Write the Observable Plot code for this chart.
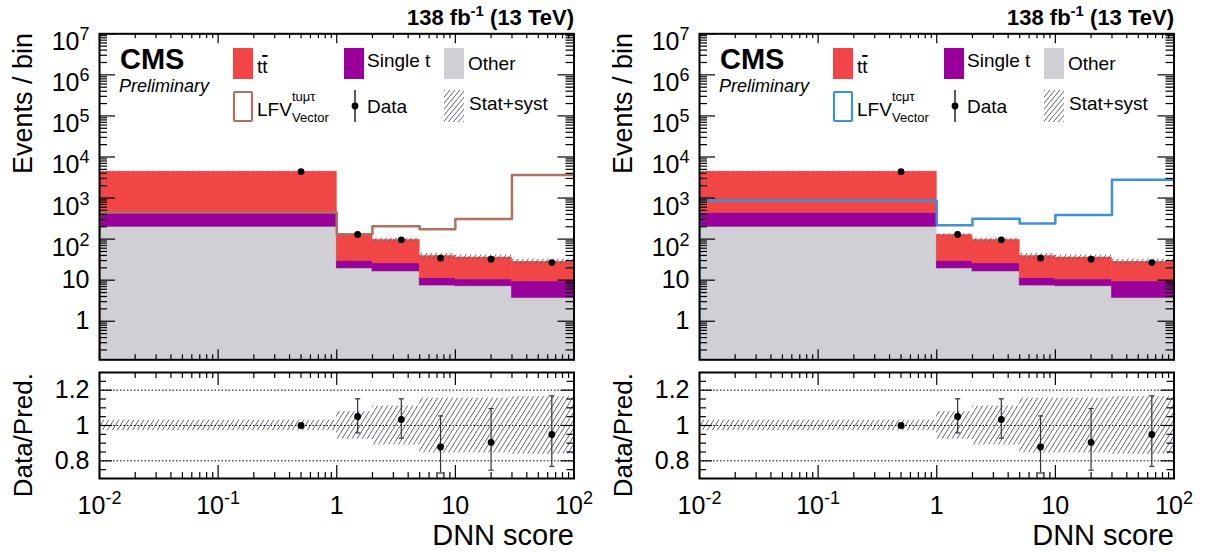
<!DOCTYPE html>
<html><head><meta charset="utf-8">
<script src="https://cdn.jsdelivr.net/npm/d3@7"></script>
<script src="https://cdn.jsdelivr.net/npm/@observablehq/plot@0.6"></script>
<style>
body{margin:0;background:#fff;}
#root{position:relative;width:1206px;height:552px;overflow:hidden;background:#fff;}
#root svg{position:absolute;}
</style></head><body><div id="root"></div>
<script>
// ---------------- data ----------------
const binEdges   = [0, 1, 2, 5, 10, 30, 100];            // DNN score bin edges
const otherBkg   = [200, 19.3, 16.3, 7.4, 7.1, 3.7];      // "Other"
const singleTop  = [237, 10.2, 9.3, 3.8, 3.3, 5.6];       // "Single t"
const ttbarBkg   = [3933, 95.5, 69.4, 27.3, 25.2, 18.7];  // "tt̄"
const dataCounts = [4400, 130, 96, 34.3, 32.4, 26.8];     // Data
const lfvTuMuTau = [445, 132, 207, 175, 307, 3630];       // LFV tuμτ (left)
const lfvTcMuTau = [860, 219, 312, 241, 385, 2800];       // LFV tcμτ (right)
const bandUnc    = [0.03, 0.078, 0.11, 0.155, 0.155, 0.163]; // stat+syst rel. unc.
const ratioValues= [1.0, 1.051, 1.034, 0.879, 0.905, 0.949];
const ratioLow   = [0.99, 0.958, 0.928, 0.731, 0.747, 0.769];
const ratioHigh  = [1.01, 1.151, 1.151, 1.054, 1.096, 1.168];
const yMajorTicks = [1, 10, 100, 1e3, 1e4, 1e5, 1e6, 1e7];
const xMajorTicks = [0.01, 0.1, 1, 10, 100];
const ratioTicks  = [0.8, 1, 1.2];
const ratioMinorTicks = [0.75, 0.85, 0.9, 0.95, 1.05, 1.1, 1.15, 1.25];

// ---------------- settings ----------------
const FONT = "'Liberation Sans', Arial, Helvetica, sans-serif";
const X_MIN = 0.01, X_MAX = 100, Y_MIN = 0.115, Y_MAX = 1e7, R_MIN = 0.7, R_MAX = 1.3;
const C = {tt: "#f04646", st: "#990099", other: "#d0cfd4", hatch: "#5c6170",
           lfvU: "#ad7260", lfvC: "#3f90da"};
const svgNS = "http://www.w3.org/2000/svg";

const bins = binEdges.slice(0, -1).map((e, i) => {
  const o = otherBkg[i], s = o + singleTop[i], t = s + ttbarBkg[i];
  return {lo: Math.max(e, X_MIN), hi: binEdges[i + 1], c: (e + binEdges[i + 1]) / 2,
          o, s, t, data: dataCounts[i], u: bandUnc[i],
          r: ratioValues[i], rLo: ratioLow[i], rHi: ratioHigh[i]};
});
const minorLog = (lo, hi) => { const a = [];
  for (let k = -3; k < 8; k++) for (let m = 2; m < 10; m++) { const v = m * 10 ** k; if (v > lo && v < hi) a.push(v); }
  return a; };
const yMinorTicks = minorLog(Y_MIN, Y_MAX);
const xMinorTicks = minorLog(X_MIN, X_MAX);

function powFmt(v) {
  const k = Math.round(Math.log10(v));
  if (k === 0) return "1";
  if (k === 1) return "10";
  return "10^" + k;
}
function hatchDefs(id) {
  return () => {
    const defs = document.createElementNS(svgNS, "defs");
    defs.innerHTML = `<pattern id="${id}" patternUnits="userSpaceOnUse" width="5" height="8">
      <path d="M-0.625,9L5.625,-1" stroke="${C.hatch}" stroke-width="1" fill="none"/></pattern>`;
    return defs;
  };
}
function supify(svg, baseY, expDy, expSize) {
  svg.querySelectorAll("text").forEach(t => {
    const s = t.textContent;
    if (!s.includes("^")) return;
    const [b, e] = s.split("^");
    t.textContent = "";
    if (baseY) t.setAttribute("y", baseY);
    const t1 = document.createElementNS(svgNS, "tspan"); t1.textContent = b; t.appendChild(t1);
    const t2 = document.createElementNS(svgNS, "tspan");
    t2.setAttribute("dy", expDy); t2.setAttribute("font-size", expSize); t2.textContent = e;
    t.appendChild(t2);
  });
}
const capSymbol = {draw(ctx, size) { const r = Math.sqrt(size / Math.PI); ctx.moveTo(-r, 0); ctx.lineTo(r, 0); }};

function frameTicks(pw, ph, {xMaj, xMin, yMaj, yMin, xMajLen, xMinLen, yMajLen, yMinLen}) {
  const sw = 1.2;
  return [
    Plot.tickY(yMaj, {y: d => d, insetRight: pw - yMajLen, strokeWidth: sw}),
    Plot.tickY(yMin, {y: d => d, insetRight: pw - yMinLen, strokeWidth: sw}),
    Plot.tickY(yMaj, {y: d => d, insetLeft: pw - yMajLen, strokeWidth: sw}),
    Plot.tickY(yMin, {y: d => d, insetLeft: pw - yMinLen, strokeWidth: sw}),
    Plot.tickX(xMaj, {x: d => d, insetTop: ph - xMajLen, strokeWidth: sw}),
    Plot.tickX(xMin, {x: d => d, insetTop: ph - xMinLen, strokeWidth: sw}),
    Plot.tickX(xMaj, {x: d => d, insetBottom: ph - xMajLen, strokeWidth: sw}),
    Plot.tickX(xMin, {x: d => d, insetBottom: ph - xMinLen, strokeWidth: sw})
  ];
}

function upperPlot(signal, sigColor, id) {
  const W = 600, H = 362, ML = 99, MR = 26.5, MT = 33.3, MB = 2.7;
  const pw = W - ML - MR, ph = H - MT - MB;
  const step = [{x: X_MIN, y: Y_MIN}, ...signal.map((v, i) => ({x: bins[i].lo, y: v})),
                {x: binEdges[binEdges.length - 1], y: signal[signal.length - 1]}];
  const fillRect = (y1, y2, color) => Plot.rect(bins, {x1: "lo", x2: "hi", y1, y2, fill: color,
    stroke: color, strokeWidth: 0.6, clip: true});
  const svg = Plot.plot({
    width: W, height: H, marginLeft: ML, marginRight: MR, marginTop: MT, marginBottom: MB,
    x: {type: "log", domain: [X_MIN, X_MAX], axis: null},
    y: {type: "log", domain: [Y_MIN, Y_MAX]},
    style: {fontFamily: FONT, fontSize: "24px", background: "transparent", overflow: "visible", color: "#000"},
    marks: [
      hatchDefs(id),
      fillRect(() => Y_MIN, "o", C.other),
      fillRect("o", "s", C.st),
      fillRect("s", "t", C.tt),
      Plot.rect(bins, {x1: "lo", x2: "hi", y1: d => d.t * (1 - d.u), y2: d => d.t * (1 + d.u), fill: `url(#${id})`, clip: true}),
      Plot.line(step, {x: "x", y: "y", curve: "step-after", stroke: sigColor, strokeWidth: 2.5, clip: true}),
      Plot.dot(bins, {x: "c", y: "data", r: 3.4, fill: "#000"}),
      ...frameTicks(pw, ph, {xMaj: xMajorTicks, xMin: xMinorTicks, yMaj: yMajorTicks, yMin: yMinorTicks,
                             xMajLen: 10, xMinLen: 5, yMajLen: 16, yMinLen: 8}),
      Plot.frame({strokeWidth: 2}),
      Plot.axisY(yMajorTicks, {tickSize: 0, tickPadding: 10, tickFormat: powFmt, fontSize: 25})
    ]
  });
  supify(svg, "0.66em", "-10", "18");
  return svg;
}

function lowerPlot(id) {
  const W = 600, H = 190, ML = 99, MR = 26.5, MT = 10, MB = 74;
  const pw = W - ML - MR, ph = H - MT - MB;
  const svg = Plot.plot({
    width: W, height: H, marginLeft: ML, marginRight: MR, marginTop: MT, marginBottom: MB,
    x: {type: "log", domain: [X_MIN, X_MAX]},
    y: {domain: [R_MIN, R_MAX]},
    style: {fontFamily: FONT, fontSize: "24px", background: "transparent", overflow: "visible", color: "#000"},
    marks: [
      hatchDefs(id),
      Plot.rect(bins, {x1: "lo", x2: "hi", y1: d => 1 - d.u, y2: d => 1 + d.u, fill: `url(#${id})`}),
      Plot.ruleY(ratioTicks, {y: d => d, strokeDasharray: "1.5,2", strokeWidth: 1}),
      Plot.ruleX(bins, {x: "c", y1: "rLo", y2: "rHi", stroke: "#333", strokeWidth: 1.2}),
      Plot.dot(bins, {x: "c", y: "rLo", symbol: capSymbol, r: 2.6, stroke: "#333", fill: "none", strokeWidth: 1.2}),
      Plot.dot(bins, {x: "c", y: "rHi", symbol: capSymbol, r: 2.6, stroke: "#333", fill: "none", strokeWidth: 1.2}),
      Plot.dot(bins, {x: "c", y: "r", r: 3.4, fill: "#000"}),
      ...frameTicks(pw, ph, {xMaj: xMajorTicks, xMin: xMinorTicks, yMaj: ratioTicks, yMin: ratioMinorTicks,
                             xMajLen: 13, xMinLen: 6, yMajLen: 13, yMinLen: 7}),
      Plot.frame({strokeWidth: 2}),
      Plot.axisY(ratioTicks, {tickSize: 0, tickPadding: 10, tickFormat: d => String(d), fontSize: 25}),
      Plot.axisX(xMajorTicks, {tickSize: 0, tickPadding: 18, tickFormat: powFmt, fontSize: 25})
    ]
  });
  supify(svg, null, "-10", "18");
  return svg;
}

const root = document.getElementById("root");
function place(svg, left, top) { svg.style.left = left + "px"; svg.style.top = top + "px"; root.appendChild(svg); }
place(upperPlot(lfvTuMuTau, C.lfvU, "hatchU0"), 0, 0);
place(lowerPlot("hatchL0"), 0, 362);
place(upperPlot(lfvTcMuTau, C.lfvC, "hatchU1"), 600, 0);
place(lowerPlot("hatchL1"), 600, 362);

// ---------------- annotations, legends, axis titles ----------------
const ov = d3.select(root).append("svg").attr("width", 1206).attr("height", 552)
  .style("left", "0px").style("top", "0px").style("font-family", FONT);
ov.append("defs").html(`<pattern id="hatchLeg" patternUnits="userSpaceOnUse" width="5" height="6">
  <path d="M-0.833,7L5.833,-1" stroke="${C.hatch}" stroke-width="1" fill="none"/></pattern>`);

const panels = [
  {ox: 0, sig: "tuμτ", color: C.lfvU},
  {ox: 600, sig: "tcμτ", color: C.lfvC}
];
for (const p of panels) {
  const g = ov.append("g").attr("transform", `translate(${p.ox},0)`);
  // lumi title
  const t = g.append("text").attr("x", 574).attr("y", 25).attr("text-anchor", "end")
    .attr("font-weight", "bold").attr("font-size", 22);
  t.append("tspan").text("138 fb");
  t.append("tspan").attr("dy", -9).attr("font-size", 15).text("-1");
  t.append("tspan").attr("dy", 9).text(" (13 TeV)");
  // CMS Preliminary
  g.append("text").attr("x", 120).attr("y", 69).attr("font-weight", "bold").attr("font-size", 29).text("CMS");
  g.append("text").attr("x", 119).attr("y", 92).attr("font-style", "italic").attr("font-size", 18).text("Preliminary");
  // legend row 1
  g.append("rect").attr("x", 233).attr("y", 48).attr("width", 20).attr("height", 31).attr("fill", C.tt);
  const tt = g.append("text").attr("x", 257).attr("y", 73).attr("font-size", 19);
  tt.append("tspan").text("t");
  tt.append("tspan").style("text-decoration", "overline").text("t");
  g.append("rect").attr("x", 344).attr("y", 48).attr("width", 20).attr("height", 31).attr("fill", C.st);
  g.append("text").attr("x", 367).attr("y", 67).attr("font-size", 19).text("Single t");
  g.append("rect").attr("x", 444).attr("y", 48).attr("width", 20).attr("height", 31).attr("fill", C.other);
  g.append("text").attr("x", 468).attr("y", 70).attr("font-size", 19).text("Other");
  // legend row 2
  g.append("rect").attr("x", 234).attr("y", 92).attr("width", 18).attr("height", 29)
    .attr("fill", "none").attr("stroke", p.color).attr("stroke-width", 2.2).attr("rx", 1);
  g.append("text").attr("x", 257).attr("y", 116).attr("font-size", 19).text("LFV");
  g.append("text").attr("x", 292).attr("y", 101).attr("font-size", 13).text(p.sig);
  g.append("text").attr("x", 292).attr("y", 122).attr("font-size", 13).text("Vector");
  g.append("line").attr("x1", 355).attr("x2", 355).attr("y1", 90).attr("y2", 122).attr("stroke", "#000").attr("stroke-width", 1.3);
  g.append("circle").attr("cx", 355).attr("cy", 106).attr("r", 3.4).attr("fill", "#000");
  g.append("text").attr("x", 367).attr("y", 113).attr("font-size", 19).text("Data");
  g.append("rect").attr("x", 444).attr("y", 90).attr("width", 20).attr("height", 32).attr("fill", "url(#hatchLeg)");
  g.append("text").attr("x", 469).attr("y", 110).attr("font-size", 19).text("Stat+syst");
  // axis titles
  g.append("text").attr("transform", "translate(32,33) rotate(-90)").attr("text-anchor", "end")
    .attr("font-size", 27).text("Events / bin");
  g.append("text").attr("transform", "translate(32,373) rotate(-90)").attr("text-anchor", "end")
    .attr("font-size", 26).text("Data/Pred.");
  g.append("text").attr("x", 574).attr("y", 545).attr("text-anchor", "end")
    .attr("font-size", 29).text("DNN score");
}
</script></body></html>
